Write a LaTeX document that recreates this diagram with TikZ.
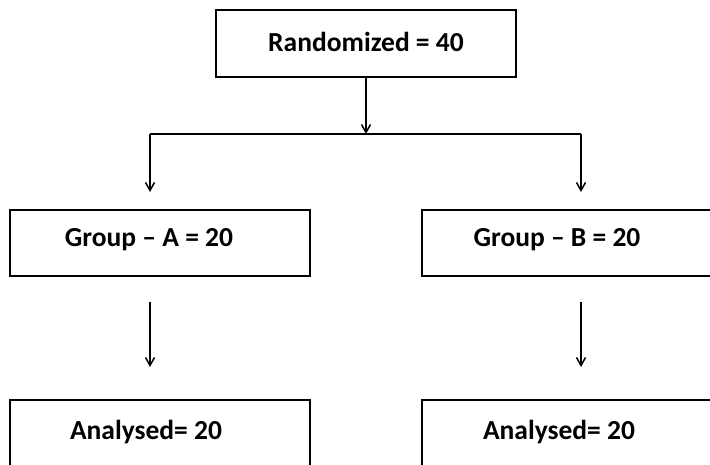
\documentclass[tikz,border=0pt]{standalone}
\usepackage{fontspec}
\setmainfont{Carlito}
\usetikzlibrary{arrows.meta}
\begin{document}
\begin{tikzpicture}[x=1pt,y=-1pt,
  box/.style={draw,line width=2pt,inner sep=0pt},
  lbl/.style={font=\bfseries\fontsize{27.5}{32}\selectfont,inner sep=0pt},
  conn/.style={line width=1.5pt,-{Straight Barb[length=8pt,width=9pt,line width=1.5pt]}}]
\useasboundingbox (0,0) rectangle (710,465);
% boxes
\draw[box] (216,10) rectangle (516,77);
\draw[box] (10,210) rectangle (310,276);
\draw[box] (422,210) rectangle (722,276);
\draw[box] (10,400) rectangle (310,480);
\draw[box] (422,400) rectangle (722,480);
\coordinate (rb) at (366,77);
\coordinate (jn) at (366,134);
\coordinate (jl) at (150,134);
\coordinate (jr) at (581,134);
\coordinate (al) at (150,192);
\coordinate (ar) at (581,192);
\coordinate (gal) at (150,302);
\coordinate (gar) at (581,302);
\coordinate (bal) at (150,367);
\coordinate (bar) at (581,367);
\node[lbl] (r) at (366,42) {Randomized = 40};
\node[lbl] (ga) at (149,240) {Group -- A = 20};
\node[lbl] (gb) at (557,240) {Group -- B = 20};
\node[lbl] (aa) at (146,432) {Analysed= 20};
\node[lbl] (ab) at (559,432) {Analysed= 20};
\draw[conn] (rb) -- (jn);
\draw[line width=1.5pt] (jl) -- (jr);
\draw[conn] (jl) -- (al);
\draw[conn] (jr) -- (ar);
\draw[conn] (gal) -- (bal);
\draw[conn] (gar) -- (bar);
\end{tikzpicture}
\end{document}
